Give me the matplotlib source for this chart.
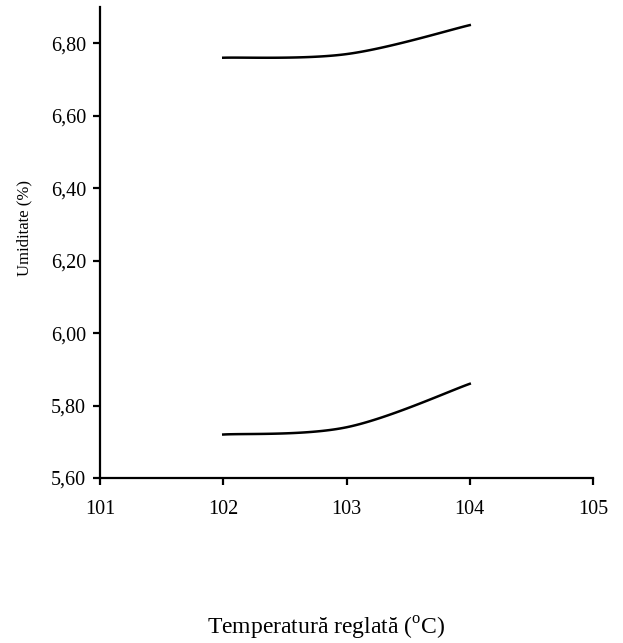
import numpy as np
import matplotlib
matplotlib.use("Agg")
import matplotlib.pyplot as plt

plt.rcParams['font.family'] = ['Liberation Serif', 'DejaVu Serif']
plt.rcParams['mathtext.fontset'] = 'custom'
plt.rcParams['mathtext.rm'] = 'Liberation Serif'

# date
temperatura = [102, 103, 104]
umiditate_sus = [6.76, 6.77, 6.85]
umiditate_jos = [5.72, 5.74, 5.86]
x_ticks = [101, 102, 103, 104, 105]
y_ticks = [5.60, 5.80, 6.00, 6.20, 6.40, 6.60, 6.80]


def smooth_line(xs, ys, n=40):
    # netezire tip Excel (Catmull-Rom -> Bezier)
    pts = np.column_stack([xs, ys]).astype(float)
    out = []
    for i in range(len(pts) - 1):
        p0 = pts[i]
        p1 = pts[i + 1]
        pm = pts[i - 1] if i > 0 else p0
        p2 = pts[i + 2] if i + 2 < len(pts) else p1
        c1 = p0 + (p1 - pm) / 6
        c2 = p1 - (p2 - p0) / 6
        t = np.linspace(0, 1, n)[:, None]
        seg = ((1 - t) ** 3) * p0 + 3 * ((1 - t) ** 2) * t * c1 + 3 * (1 - t) * t ** 2 * c2 + t ** 3 * p1
        out.append(seg if i == 0 else seg[1:])
    out = np.vstack(out)
    return out[:, 0], out[:, 1]


fig = plt.figure(figsize=(6.23, 6.43), dpi=100)
ax = fig.add_axes([100 / 623, 1 - 478 / 643, 493 / 623, 471 / 643])

for serie in (umiditate_sus, umiditate_jos):
    sx, sy = smooth_line(temperatura, serie)
    ax.plot(sx, sy, color='black', lw=1.8)

ax.set_xlim(101, 105)
ax.set_ylim(5.60, 6.90)
ax.set_xticks(x_ticks)
ax.set_xticklabels([str(v) for v in x_ticks])
ax.set_yticks(y_ticks)
ax.set_yticklabels([f"{v:.2f}".replace('.', ',') for v in y_ticks])

ax.spines['top'].set_visible(False)
ax.spines['right'].set_visible(False)
for s in ('left', 'bottom'):
    ax.spines[s].set_linewidth(1.6)
ax.tick_params(axis='both', direction='out', length=5, width=1.6, labelsize=14.5)
ax.tick_params(axis='x', pad=11)
ax.tick_params(axis='y', pad=5)

fig.text(24 / 623, 1 - 228 / 643, 'Umiditate (%)', rotation=90, ha='center', va='center', fontsize=12)
fig.text(326 / 623, 1 - 635 / 643, 'Temperatură reglată ($^{\\rm o}$C)', ha='center', va='baseline', fontsize=17)

fig.savefig('out.png', dpi=100)
